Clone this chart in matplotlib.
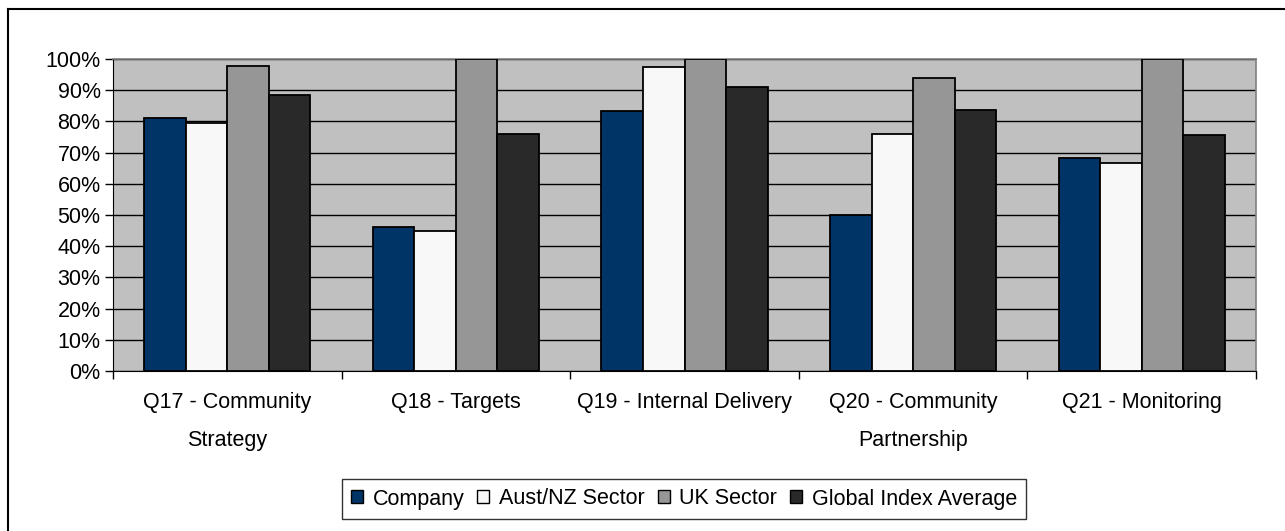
import numpy as np
import matplotlib
matplotlib.use("Agg")
import matplotlib.pyplot as plt
from matplotlib.lines import Line2D
from matplotlib.patches import Patch

plt.rcParams["font.family"] = ["Liberation Sans", "DejaVu Sans"]

# ----------------------------------------------------------
# DATA
# ----------------------------------------------------------
categories = [
    "Q17 - Community\nStrategy",
    "Q18 - Targets",
    "Q19 - Internal Delivery",
    "Q20 - Community\nPartnership",
    "Q21 - Monitoring",
]
series_names = ["Company", "Aust/NZ Sector", "UK Sector", "Global Index Average"]
company = [81.2, 46.0, 83.3, 50.0, 68.4]
aust_nz = [79.6, 44.9, 97.3, 76.0, 66.6]
uk_sector = [97.9, 100.0, 100.0, 93.9, 100.0]
global_avg = [88.5, 76.0, 91.0, 83.7, 75.5]
y_ticks = [0, 10, 20, 30, 40, 50, 60, 70, 80, 90, 100]

colors = ["#003366", "#F8F8F8", "#969696", "#292929"]

FS = 15.5

# ----------------------------------------------------------
# PLOT
# ----------------------------------------------------------
fig = plt.figure(figsize=(12.85, 5.31), dpi=100)
ax = fig.add_axes([113 / 1285, 1 - 371 / 531, 1143 / 1285, 312 / 531])

ax.set_facecolor("#C0C0C0")

all_series = [company, aust_nz, uk_sector, global_avg]
x = np.arange(len(categories))
bar_w = 1 / 5.5
offsets = (np.arange(4) - 1.5) * bar_w

for i, vals in enumerate(all_series):
    ax.bar(x + offsets[i], vals, width=bar_w, color=colors[i],
           edgecolor="black", linewidth=1.3, zorder=3)

ax.set_xlim(-0.5, len(categories) - 0.5)
ax.set_ylim(0, 100)

ax.set_yticks(y_ticks)
ax.set_yticklabels([f"{v}%" for v in y_ticks], fontsize=FS)
ax.yaxis.grid(True, color="black", linewidth=1.0, zorder=1)
ax.set_axisbelow(True)

# category labels between boundary ticks
ax.set_xticks(np.arange(len(categories) + 1) - 0.5)
ax.set_xticklabels([])
ax.set_xticks(x, minor=True)
ax.set_xticklabels(categories, minor=True, fontsize=FS, linespacing=2.1)
ax.tick_params(axis="x", which="minor", length=0, pad=15)
ax.tick_params(axis="x", which="major", length=6, width=1, direction="out")
ax.tick_params(axis="y", length=6, width=1, direction="out", pad=3)

for s in ["top", "right"]:
    ax.spines[s].set_color("#808080")
    ax.spines[s].set_linewidth(1.2)
ax.spines["left"].set_color("black")
ax.spines["bottom"].set_color("black")

handles = [Patch(facecolor=c, edgecolor="black", linewidth=1.0) for c in colors]
leg = fig.legend(handles, series_names, loc="center",
                 bbox_to_anchor=(684 / 1285, 1 - 499 / 531), ncol=4, fontsize=FS,
                 frameon=True, fancybox=False, edgecolor="black",
                 handlelength=0.56, handleheight=0.56, handletextpad=0.45,
                 columnspacing=0.6, borderpad=0.42, borderaxespad=0)
leg.get_frame().set_linewidth(1.0)

# outer chart frame
fig.add_artist(Line2D([8 / 1285, 8 / 1285], [0, 1 - 9 / 531], color="black",
                      linewidth=1.5, transform=fig.transFigure))
fig.add_artist(Line2D([8 / 1285, 1], [1 - 9 / 531, 1 - 9 / 531], color="black",
                      linewidth=1.5, transform=fig.transFigure))

fig.savefig("out.png", dpi=100)
